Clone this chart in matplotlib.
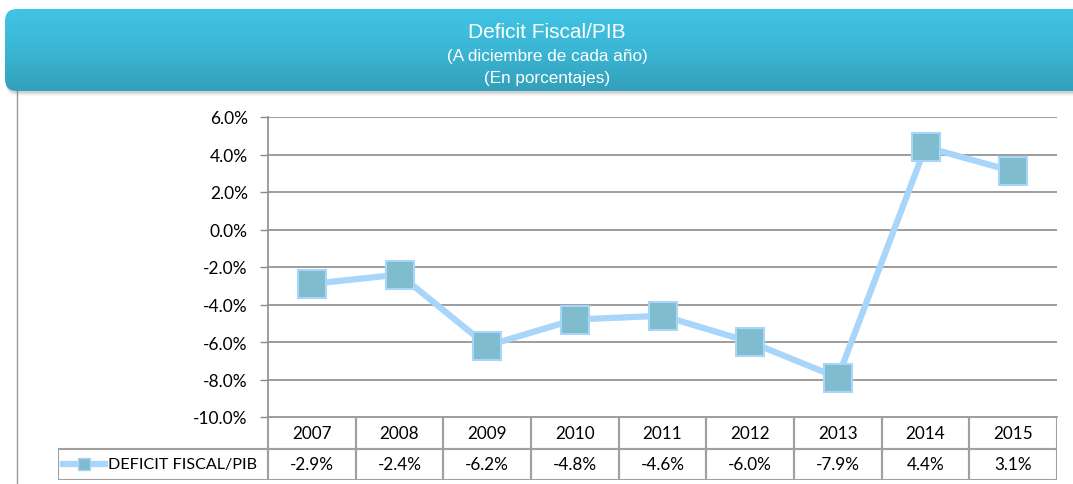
import numpy as np
import matplotlib.pyplot as plt
from matplotlib.patches import FancyBboxPatch, Rectangle
from matplotlib.lines import Line2D
from matplotlib.colors import LinearSegmentedColormap

years = ['2007', '2008', '2009', '2010', '2011', '2012', '2013', '2014', '2015']
deficit = [-2.9, -2.4, -6.2, -4.8, -4.6, -6.0, -7.9, 4.4, 3.1]
labels = ['-2.9%', '-2.4%', '-6.2%', '-4.8%', '-4.6%', '-6.0%', '-7.9%', '4.4%', '3.1%']
yticks = [6, 4, 2, 0, -2, -4, -6, -8, -10]
serie = 'DEFICIT FISCAL/PIB'

W, H = 1073, 485
fig = plt.figure(figsize=(W / 100, H / 100), dpi=100)
fig.patch.set_facecolor('white')

def rect(x0, y0, x1, y1):
    # pixel box -> figure coords
    return [x0 / W, 1 - y1 / H, (x1 - x0) / W, (y1 - y0) / H]

# left frame line
fig.add_artist(Line2D([17 / W, 17 / W], [0, 1 - 92 / H], color='#9a9a9a', lw=1))

# banner with shadow
bx = fig.add_axes([0, 0, 1, 1], zorder=5)
bx.set_xlim(0, W)
bx.set_ylim(H, 0)
bx.axis('off')
for i, a in enumerate([0.10, 0.08, 0.06, 0.04]):
    sh = FancyBboxPatch((6, 14 + i), 1100, 80, boxstyle='round,pad=0,rounding_size=12',
                        fc='#555555', ec='none', alpha=a)
    bx.add_patch(sh)
ban = FancyBboxPatch((5, 10), 1100, 82, boxstyle='round,pad=0,rounding_size=12',
                     fc='none', ec='none')
bx.add_patch(ban)
grad = np.linspace(0, 1, 100).reshape(-1, 1)
cm = LinearSegmentedColormap.from_list('b', ['#41c4e4', '#3bb6d4', '#33a0bb'])
im = bx.imshow(grad, cmap=cm, extent=(5, 1105, 92, 10), aspect='auto', zorder=1)
im.set_clip_path(ban)
bx.text(547, 33, 'Deficit Fiscal/PIB', color='white', fontsize=15, ha='center', va='center',
        family='Liberation Sans', zorder=3)
bx.text(547, 57, '(A diciembre de cada año)', color='white', fontsize=12.3, ha='center',
        va='center', family='Liberation Sans', zorder=3)
bx.text(547, 78, '(En porcentajes)', color='white', fontsize=12.3, ha='center', va='center',
        family='Liberation Sans', zorder=3)

# main chart
ax = fig.add_axes(rect(268, 118, 1057, 418))
x = np.arange(len(years))
ax.set_xlim(-0.5, len(years) - 0.5)
ax.set_ylim(-10, 6)
ax.set_yticks(yticks)
ax.set_yticklabels(['%.1f%%' % t for t in yticks], family='Lato', fontsize=12.5)
ax.tick_params(axis='y', length=6, width=1, color='#8a8a8a', pad=8.5)
ax.set_xticks([])
for t in yticks[:-1]:
    ax.axhline(t, color='#8c8c8c', lw=1.2, zorder=1)
for s in ['top', 'right']:
    ax.spines[s].set_visible(False)
ax.spines['left'].set_color('#8c8c8c')
ax.spines['bottom'].set_color('#8c8c8c')
ax.spines['left'].set_linewidth(1.2)
ax.spines['bottom'].set_linewidth(1.2)
ax.plot(x, deficit, color='#a8d5fa', lw=4.5, zorder=3, solid_joinstyle='round')
ax.plot(x, deficit, ls='none', marker='s', ms=20, mfc='#7fbccd', mec='#a8d5fa', mew=1.5,
        zorder=4)

# data table
tx = fig.add_axes(rect(58, 418, 1057, 481))
colw = 789 / 9
left = -0.5 - (268 - 58) / colw
tx.set_xlim(left, len(years) - 0.5)
tx.set_ylim(0, 2)
tx.axis('off')
lc = '#a0a0a0'
for i, yr in enumerate(years):
    tx.add_patch(Rectangle((i - 0.5, 1), 1, 1, fc='none', ec=lc, lw=1.5))
    tx.add_patch(Rectangle((i - 0.5, 0), 1, 1, fc='none', ec=lc, lw=1.5))
    tx.text(i, 1.5, yr, ha='center', va='center', family='Lato', fontsize=12.3)
    tx.text(i, 0.5, labels[i], ha='center', va='center', family='Lato', fontsize=12.3)
tx.add_patch(Rectangle((left, 0), -0.5 - left, 1, fc='none', ec=lc, lw=1.5))
lx0 = left + 5 / colw
lx1 = left + 47 / colw
tx.plot([lx0, lx1], [0.5, 0.5], color='#a8d5fa', lw=4.5, clip_on=False)
tx.plot([(lx0 + lx1) / 2], [0.5], ls='none', marker='s', ms=9, mfc='#7fbccd', mec='#a8d5fa',
        mew=1, clip_on=False)
tx.text(left + 50 / colw, 0.5, serie, ha='left', va='center', family='Lato', fontsize=11.6)

fig.savefig('out.png', dpi=100)
